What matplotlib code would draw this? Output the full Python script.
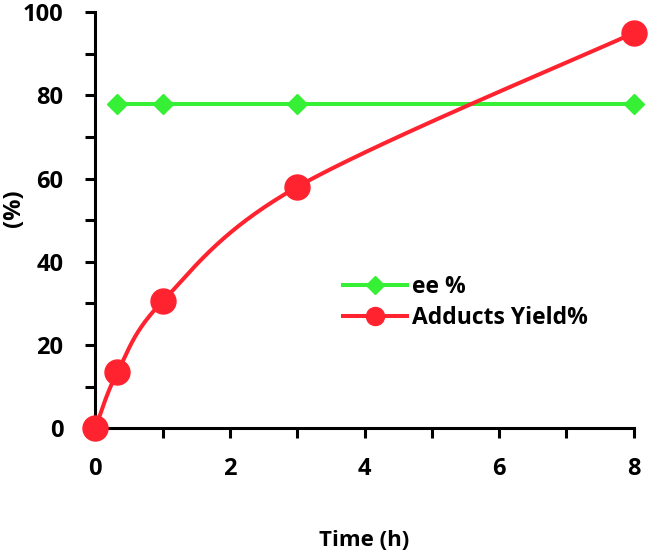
import numpy as np
import matplotlib
matplotlib.use("Agg")
import matplotlib.pyplot as plt
from matplotlib.ticker import MultipleLocator
from matplotlib.lines import Line2D

plt.rcParams['font.family'] = ['Open Sans', 'DejaVu Sans']

time_ee = [0.33, 1, 3, 8]
ee = [78, 78, 78, 78]
time_yield = [0, 0.33, 1, 3, 8]
yield_pct = [0, 13.5, 30.5, 58, 95]

GREEN = '#35F035'
RED = '#FF2330'


def smooth(xs, ys, n=60):
    # Excel-like smoothed line (Catmull-Rom Bezier through data points)
    xs = np.asarray(xs, float)
    ys = np.asarray(ys, float)
    P = np.column_stack([xs, ys])
    out = []
    for i in range(len(P) - 1):
        p0 = P[i - 1] if i > 0 else P[i]
        p1 = P[i]
        p2 = P[i + 1]
        p3 = P[i + 2] if i + 2 < len(P) else P[i + 1]
        c1 = p1 + (p2 - p0) / 6.0
        c2 = p2 - (p3 - p1) / 6.0
        t = np.linspace(0, 1, n)[:, None]
        seg = ((1 - t) ** 3) * p1 + 3 * ((1 - t) ** 2) * t * c1 + 3 * (1 - t) * t ** 2 * c2 + t ** 3 * p2
        out.append(seg if i == 0 else seg[1:])
    seg = np.vstack(out)
    return seg[:, 0], seg[:, 1]


fig = plt.figure(figsize=(6.48, 5.54), dpi=100)
ax = fig.add_axes([0.147, 0.227, 0.831, 0.751])

LW = 2.9
ax.plot(time_ee, ee, color=GREEN, lw=LW, marker='D', ms=10.5, mfc=GREEN, mec=GREEN,
        zorder=3, clip_on=False)
sx, sy = smooth(time_yield, yield_pct)
ax.plot(sx, sy, color=RED, lw=LW, zorder=4, clip_on=False)
ax.plot(time_yield, yield_pct, ls='none', marker='o', ms=18, mfc=RED, mec=RED, zorder=5, clip_on=False)

handles = [
    Line2D([], [], color=GREEN, lw=LW, marker='D', ms=9, mfc=GREEN, mec=GREEN),
    Line2D([], [], color=RED, lw=LW, marker='o', ms=13, mfc=RED, mec=RED),
]
labels = ['ee %', 'Adducts Yield%']

ax.set_xlim(0, 8)
ax.set_ylim(0, 100)
ax.xaxis.set_major_locator(MultipleLocator(2))
ax.xaxis.set_minor_locator(MultipleLocator(1))
ax.yaxis.set_major_locator(MultipleLocator(20))
ax.yaxis.set_minor_locator(MultipleLocator(10))

for s in ['top', 'right']:
    ax.spines[s].set_visible(False)
for s in ['left', 'bottom']:
    ax.spines[s].set_linewidth(2.2)
    ax.spines[s].set_color('black')

ax.tick_params(which='both', direction='out', width=2.2, length=7, color='black')
ax.tick_params(axis='x', which='major', pad=14)
ax.tick_params(axis='y', which='major', pad=16)
for lab in ax.get_xticklabels() + ax.get_yticklabels():
    lab.set_fontsize(17)
    lab.set_fontweight('bold')

ax.set_xlabel('Time (h)', fontsize=16, fontweight='bold')
ax.xaxis.set_label_coords(0.5, -0.245)
ax.set_ylabel('(%)', fontsize=17, fontweight='bold')
ax.yaxis.set_label_coords(-0.128, 0.53)

leg = ax.legend(handles, labels, loc='center left', bbox_to_anchor=(0.461, 0.303), frameon=False,
                prop={'size': 16.5, 'weight': 'bold'}, handlelength=2.75, handletextpad=0.26,
                labelspacing=0.3, borderaxespad=0, borderpad=0)

fig.savefig('out.png', dpi=100)
